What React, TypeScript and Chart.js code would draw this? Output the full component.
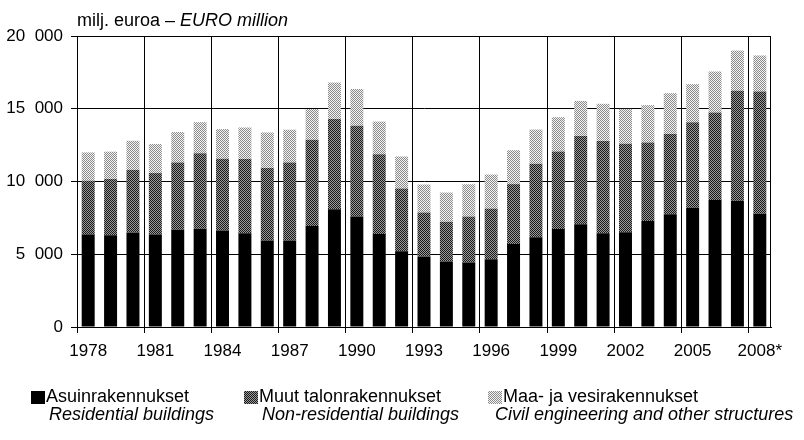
import React, { useEffect, useRef } from 'react';
import { Chart, registerables } from 'chart.js';
Chart.register(...registerables);

const years = ['1978','1979','1980','1981','1982','1983','1984','1985','1986','1987','1988','1989','1990','1991','1992','1993','1994','1995','1996','1997','1998','1999','2000','2001','2002','2003','2004','2005','2006','2007','2008*'];
const residential = [6350, 6300, 6500, 6350, 6680, 6750, 6630, 6450, 5950, 5950, 6950, 8100, 7600, 6400, 5200, 4850, 4500, 4430, 4660, 5700, 6170, 6740, 7060, 6440, 6510, 7280, 7750, 8200, 8730, 8670, 7790];
const nonResidential = [3700, 3870, 4300, 4230, 4620, 5200, 4930, 5090, 4970, 5350, 5920, 6200, 6230, 5480, 4320, 3020, 2730, 3160, 3480, 4120, 5050, 5320, 6070, 6350, 6080, 5400, 5510, 5880, 6010, 7560, 8390];
const civil = [1950, 1880, 2000, 2000, 2100, 2130, 2040, 2170, 2450, 2260, 2110, 2500, 2530, 2240, 2200, 1920, 2010, 2220, 2340, 2330, 2350, 2360, 2410, 2550, 2400, 2570, 2810, 2610, 2820, 2770, 2480];
const seriesNamesFi = ['Asuinrakennukset', 'Muut talonrakennukset', 'Maa- ja vesirakennukset'];
const seriesNamesEn = ['Residential buildings', 'Non-residential buildings', 'Civil engineering and other structures'];

const FONT = '"Liberation Sans", Arial, sans-serif';
const TICK_FS = 17;
const TEXT_FS = 18;

function makePattern(a: string, b: string): CanvasPattern | string {
  const c = document.createElement('canvas');
  c.width = 2; c.height = 2;
  const g = c.getContext('2d');
  if (!g) return a;
  g.fillStyle = b; g.fillRect(0, 0, 2, 2);
  g.fillStyle = a; g.fillRect(0, 0, 1, 1); g.fillRect(1, 1, 1, 1);
  const p = g.createPattern(c, 'repeat');
  return p || a;
}

const fmt = (v: number) => String(v).replace(/\B(?=(\d{3})+(?!\d))/g, '\u2007');

export default function App() {
  const ref = useRef<HTMLCanvasElement>(null);
  useEffect(() => {
    if (!ref.current) return;
    const dark = makePattern('#1a1a1a', '#9a9a9a');
    const light = makePattern('#8a8a8a', '#f4f4f4');
    const borderPlugin = {
      id: 'box',
      afterDraw(chart: any) {
        const { ctx, chartArea } = chart;
        ctx.save();
        ctx.strokeStyle = '#000';
        ctx.lineWidth = 1;
        ctx.strokeRect(chartArea.left + 0.5, chartArea.top + 0.5, chartArea.right - chartArea.left - 1, chartArea.bottom - chartArea.top);
        ctx.restore();
      },
    };
    const chart = new Chart(ref.current, {
      type: 'bar',
      data: {
        labels: years,
        datasets: [
          { label: seriesNamesFi[0], data: residential, backgroundColor: '#000', barPercentage: 0.58, categoryPercentage: 1 },
          { label: seriesNamesFi[1], data: nonResidential, backgroundColor: dark as any, barPercentage: 0.58, categoryPercentage: 1 },
          { label: seriesNamesFi[2], data: civil, backgroundColor: light as any, barPercentage: 0.58, categoryPercentage: 1 },
        ],
      },
      options: {
        animation: false,
        responsive: false,
        layout: { padding: { left: 0, top: 36, right: 33, bottom: 73 } },
        plugins: { legend: { display: false }, tooltip: { enabled: false }, title: { display: false } },
        scales: {
          x: {
            stacked: true,
            offset: true,
            grid: {
              offset: true,
              color: (c: any) => (c.index % 3 === 0 ? '#000' : 'rgba(0,0,0,0)'),
              lineWidth: 1,
              tickLength: 6,
            },
            border: { color: '#000' },
            ticks: {
              autoSkip: false,
              maxRotation: 0,
              minRotation: 0,
              color: '#000',
              padding: 8,
              font: { family: FONT, size: TICK_FS },
              callback: (_v: any, i: number) => (i % 3 === 0 ? years[i] : ''),
            },
            afterFit: (s: any) => { s.height = 40; },
          },
          y: {
            stacked: true,
            min: 0,
            max: 20000,
            grid: { color: '#000', lineWidth: 1, tickLength: 6 },
            border: { color: '#000' },
            ticks: {
              stepSize: 5000,
              color: '#000',
              padding: 8,
              font: { family: FONT, size: TICK_FS },
              callback: (v: any) => fmt(Number(v)),
            },
            afterFit: (s: any) => { s.width = 77; },
          },
        },
      },
      plugins: [borderPlugin],
    });
    return () => chart.destroy();
  }, []);

  const txt: React.CSSProperties = { position: 'absolute', fontFamily: FONT, fontSize: TEXT_FS, color: '#000', whiteSpace: 'nowrap', lineHeight: '19px' };
  const sq = (bg: string): React.CSSProperties => ({ position: 'absolute', width: 14, height: 13, background: bg });
  const checker = (a: string, b: string) => `repeating-conic-gradient(${a} 0 25%, ${b} 0 50%) 0 0 / 2px 2px`;

  return (
    <div style={{ position: 'fixed', left: 0, top: 0, width: 804, height: 440, background: '#fff', overflow: 'hidden' }}>
      <canvas ref={ref} width={804} height={440} style={{ position: 'absolute', left: 0, top: 0 }} />
      <div style={{ ...txt, left: 77, top: 11 }}>milj. euroa – <i>EURO million</i></div>

      <div style={{ ...sq('#000'), left: 31, top: 391 }} />
      <div style={{ ...txt, left: 46, top: 387 }}>{seriesNamesFi[0]}</div>
      <div style={{ ...txt, left: 49, top: 405, fontStyle: 'italic' }}>{seriesNamesEn[0]}</div>

      <div style={{ ...sq(checker('#1a1a1a', '#9a9a9a')), left: 244, top: 391 }} />
      <div style={{ ...txt, left: 259, top: 387 }}>{seriesNamesFi[1]}</div>
      <div style={{ ...txt, left: 262, top: 405, fontStyle: 'italic' }}>{seriesNamesEn[1]}</div>

      <div style={{ ...sq(checker('#8a8a8a', '#f4f4f4')), left: 488, top: 391 }} />
      <div style={{ ...txt, left: 503, top: 387 }}>{seriesNamesFi[2]}</div>
      <div style={{ ...txt, left: 495, top: 405, fontStyle: 'italic' }}>{seriesNamesEn[2]}</div>
    </div>
  );
}
